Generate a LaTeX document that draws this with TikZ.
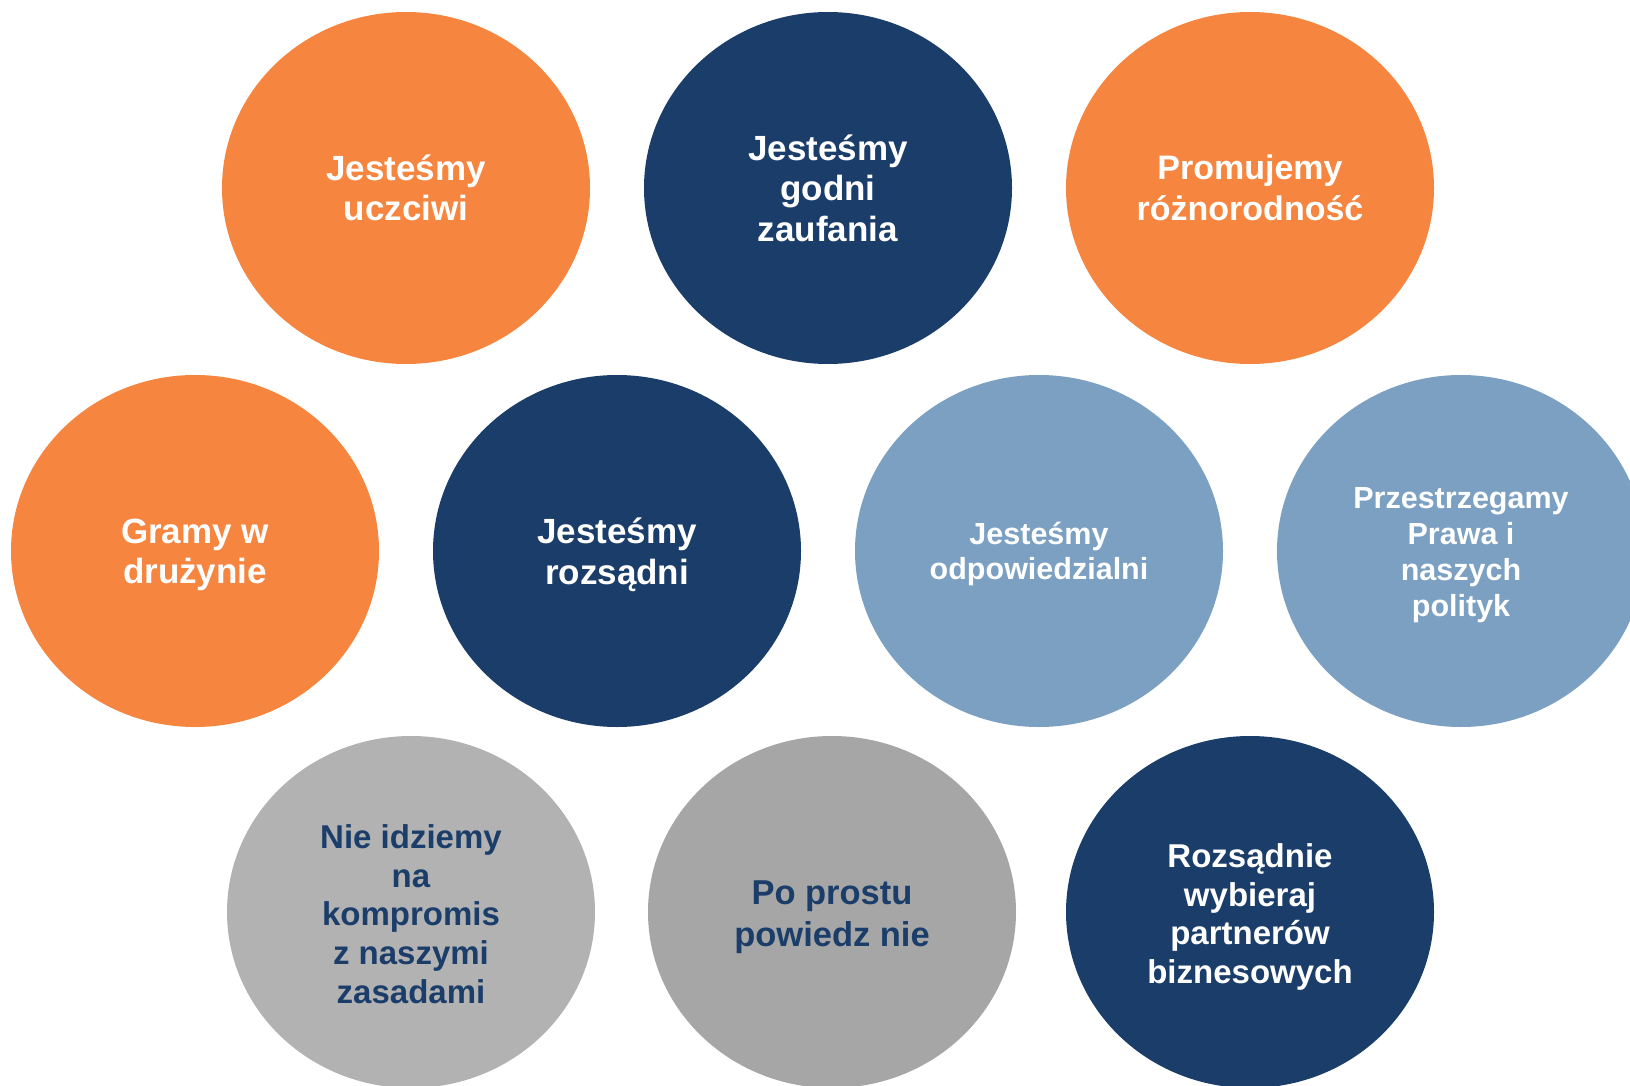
\documentclass[tikz,border=0pt]{standalone}
\usepackage{fontspec}
\setmainfont{Liberation Sans}
\usepackage{tikz}
\usetikzlibrary{
  positioning,
  shapes.geometric
}
\definecolor{valOrange}{HTML}{F5853F}
\definecolor{valNavy}{HTML}{1B3D6A}
\definecolor{valSky}{HTML}{7BA0C1}
\definecolor{valGray}{HTML}{B2B2B2}
\definecolor{valGrayDark}{HTML}{A6A6A6}
\tikzstyle{value}=[ellipse, draw=none, minimum width=368pt, minimum height=352pt, inner sep=0pt]
\tikzstyle{caption}=[align=center, inner sep=0pt, font=\bfseries\fontsize{35}{40.5}\selectfont]
\tikzstyle{small}=[font=\bfseries\fontsize{30.5}{35.8}\selectfont]
\tikzstyle{mid}=[font=\bfseries\fontsize{33}{38.7}\selectfont]

\begin{document}
\begin{tikzpicture}[x=1pt, y=-1pt]
      \def\ya{188};
      \def\yb{551};
      \def\yc{912};

      % obszar rysunku
      \useasboundingbox (0,0) rectangle (1630,1086);
      \clip (0,0) rectangle (1630,1086);

      % pierwszy rząd
      \node[value, fill=valOrange] (uczciwi) at (406,\ya) {};
      \node[value, fill=valNavy] (zaufanie) at (828,\ya) {};
      \node[value, fill=valOrange] (roznorodnosc) at (1250,\ya) {};
      \node[caption, text=white] (uczciwi-t) at (uczciwi) {Jesteśmy\\uczciwi};
      \node[caption, text=white] (zaufanie-t) at (zaufanie) {Jesteśmy\\godni\\zaufania};
      \node[caption, text=white, font=\bfseries\fontsize{34}{40.5}\selectfont] (roznorodnosc-t) at (roznorodnosc) {Promujemy\\różnorodność};

      % drugi rząd
      \node[value, fill=valOrange] (druzyna) at (195,\yb) {};
      \node[value, fill=valNavy] (rozsadni) at (617,\yb) {};
      \node[value, fill=valSky] (odpowiedzialni) at (1039,\yb) {};
      \node[value, fill=valSky] (prawo) at (1461,\yb) {};
      \node[caption, text=white] (druzyna-t) at ([yshift=-4]druzyna) {Gramy w\\drużynie};
      \node[caption, text=white] (rozsadni-t) at ([yshift=-4]rozsadni) {Jesteśmy\\rozsądni};
      \node[caption, small, text=white] (odpowiedzialni-t) at ([yshift=-3]odpowiedzialni) {Jesteśmy\\odpowiedzialni};
      \node[caption, small, text=white] (prawo-t) at ([yshift=-4]prawo) {Przestrzegamy\\Prawa i\\naszych\\polityk};

      % trzeci rząd
      \node[value, fill=valGray] (zasady) at (411,\yc) {};
      \node[value, fill=valGrayDark] (nie) at (832,\yc) {};
      \node[value, fill=valNavy] (partnerzy) at (1250,\yc) {};
      \node[caption, mid, text=valNavy] (zasady-t) at ([yshift=-2]zasady) {Nie idziemy\\na\\kompromis\\z naszymi\\zasadami};
      \node[caption, text=valNavy, font=\bfseries\fontsize{34.5}{41.5}\selectfont] (nie-t) at ([yshift=-5]nie) {Po prostu\\powiedz nie};
      \node[caption, mid, text=white] (partnerzy-t) at ([yshift=-5]partnerzy) {Rozsądnie\\wybieraj\\partnerów\\biznesowych};
    \end{tikzpicture}
\end{document}
